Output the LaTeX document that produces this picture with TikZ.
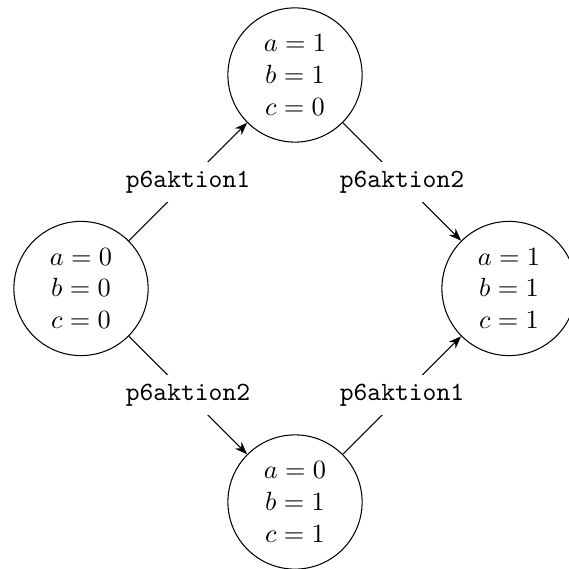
\documentclass[tikz,border=0pt]{standalone}
\usetikzlibrary{arrows.meta}
\begin{document}
\begin{tikzpicture}[x=0.38pt,y=-0.38pt,
  state/.style={circle,draw,minimum size=51pt,inner sep=0pt,align=center},
  lbl/.style={fill=white,font=\ttfamily},
  conn/.style={-{Stealth}}]
\useasboundingbox (0,0) rectangle (568,569);
\node[state] (s000) at (81,288.5) {$a=0$\\$b=0$\\$c=0$};
\node[state] (s110) at (295,75) {$a=1$\\$b=1$\\$c=0$};
\node[state] (s111) at (509,288.5) {$a=1$\\$b=1$\\$c=1$};
\node[state] (s011) at (295,502) {$a=0$\\$b=1$\\$c=1$};
\draw[conn] (s000) -- node[lbl] (l1) {p6aktion1} (s110);
\draw[conn] (s110) -- node[lbl] (l2) {p6aktion2} (s111);
\draw[conn] (s000) -- node[lbl] (l3) {p6aktion2} (s011);
\draw[conn] (s011) -- node[lbl] (l4) {p6aktion1} (s111);
\end{tikzpicture}
\end{document}
